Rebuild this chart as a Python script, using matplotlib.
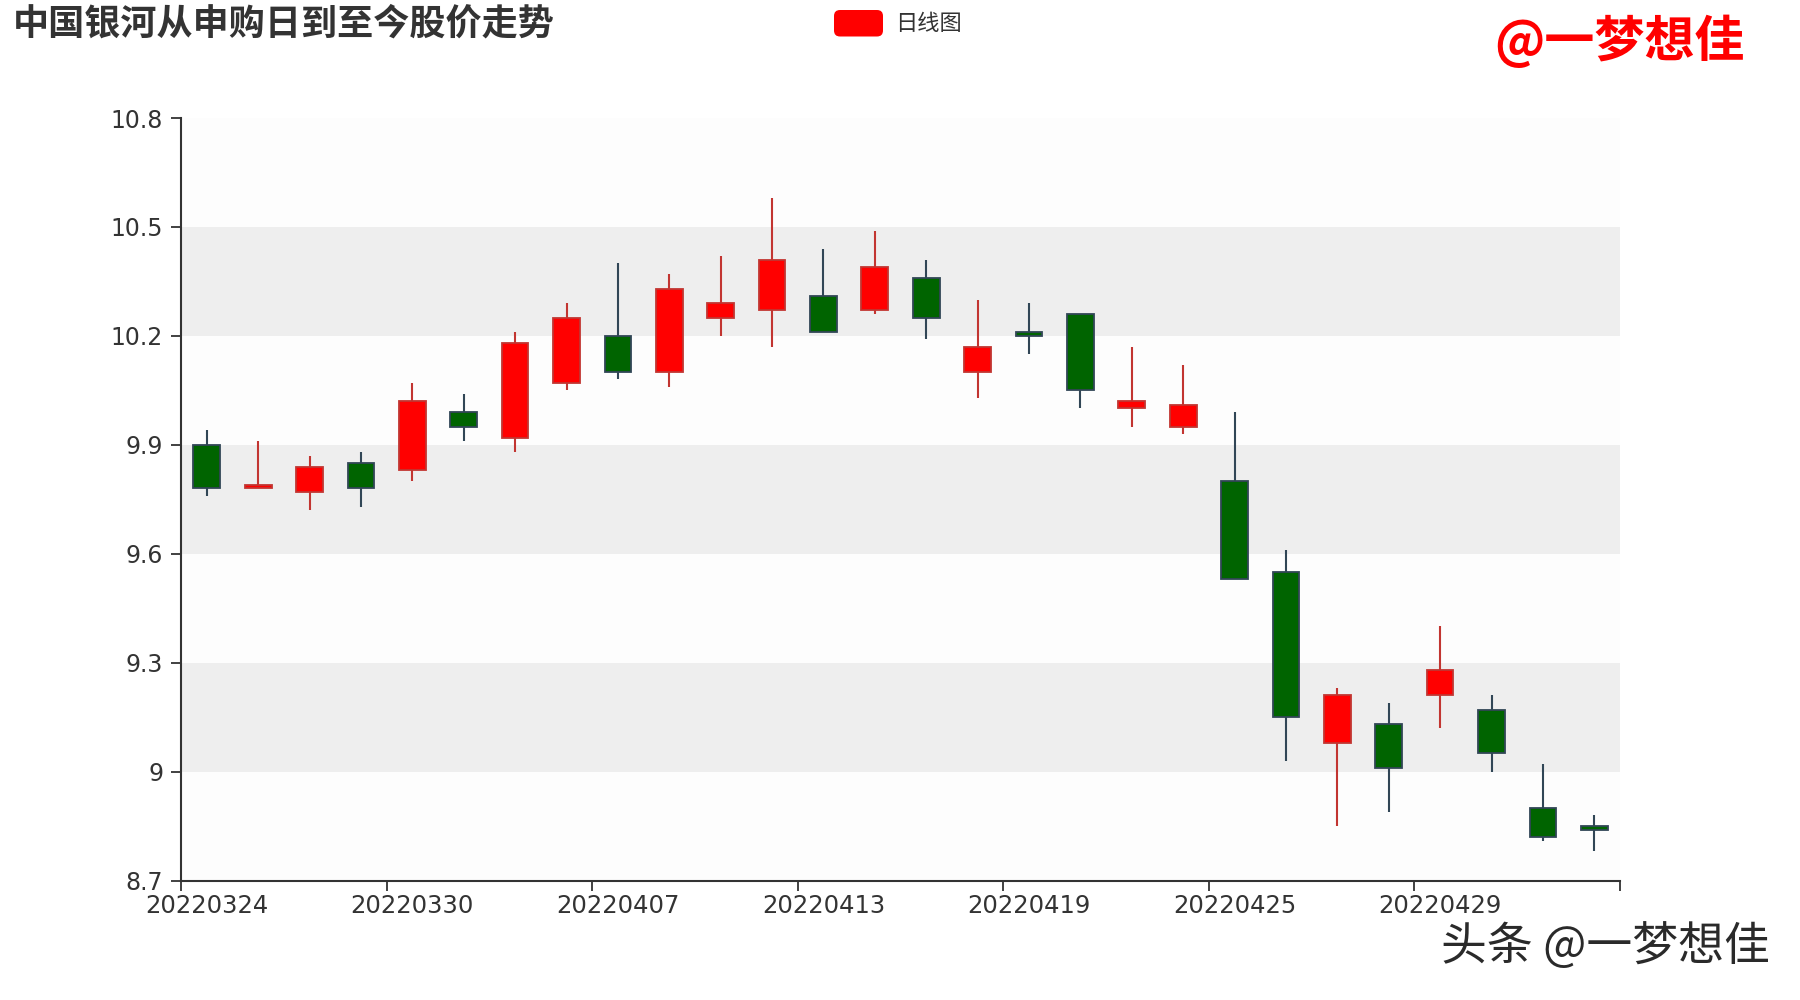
import matplotlib
matplotlib.use('Agg')
import matplotlib.pyplot as plt
from matplotlib.patches import FancyBboxPatch
from matplotlib.ticker import FormatStrFormatter
import numpy as np

plt.rcParams['font.family'] = ['Noto Sans CJK SC', 'DejaVu Sans']

# daily K-line data
dates = ['20220324', '20220325', '20220328', '20220329', '20220330', '20220331',
         '20220401', '20220406', '20220407', '20220408', '20220411', '20220412',
         '20220413', '20220414', '20220415', '20220418', '20220419', '20220420',
         '20220421', '20220422', '20220425', '20220426', '20220427', '20220428',
         '20220429', '20220505', '20220506', '20220509']
opens = [9.90, 9.78, 9.77, 9.85, 9.83, 9.99, 9.92, 10.07, 10.20, 10.10,
         10.25, 10.27, 10.31, 10.27, 10.36, 10.10, 10.21, 10.26, 10.00, 9.95,
         9.80, 9.55, 9.08, 9.13, 9.21, 9.17, 8.90, 8.85]
closes = [9.78, 9.79, 9.84, 9.78, 10.02, 9.95, 10.18, 10.25, 10.10, 10.33,
          10.29, 10.41, 10.21, 10.39, 10.25, 10.17, 10.20, 10.05, 10.02, 10.01,
          9.53, 9.15, 9.21, 9.01, 9.28, 9.05, 8.82, 8.84]
lows = [9.76, 9.78, 9.72, 9.73, 9.80, 9.91, 9.88, 10.05, 10.08, 10.06,
        10.20, 10.17, 10.21, 10.26, 10.19, 10.03, 10.15, 10.00, 9.95, 9.93,
        9.53, 9.03, 8.85, 8.89, 9.12, 9.00, 8.81, 8.78]
highs = [9.94, 9.91, 9.87, 9.88, 10.07, 10.04, 10.21, 10.29, 10.40, 10.37,
         10.42, 10.58, 10.44, 10.49, 10.41, 10.30, 10.29, 10.26, 10.17, 10.12,
         9.99, 9.61, 9.23, 9.19, 9.40, 9.21, 9.02, 8.88]

y_ticks = [8.7, 9.0, 9.3, 9.6, 9.9, 10.2, 10.5, 10.8]

fig = plt.figure(figsize=(18, 10), dpi=100)
ax = fig.add_axes([0.1006, 0.1195, 0.7994, 0.7625])

# alternating split areas
for k in range(len(y_ticks) - 1):
    band = '#eeeeee' if k % 2 == 1 else '#fdfdfd'
    ax.axhspan(y_ticks[k], y_ticks[k + 1], color=band, lw=0, zorder=0)

x = np.arange(len(dates))
for i in x:
    up = closes[i] >= opens[i]
    fill = '#ff0000' if up else '#006400'
    edge = '#c23531' if up else '#314656'
    ax.vlines(i, lows[i], highs[i], color=edge, lw=1.5, zorder=2)
    ax.bar(i, closes[i] - opens[i], bottom=opens[i], width=0.52,
           color=fill, edgecolor=edge, lw=1.3, zorder=3)

ax.set_xlim(-0.5, len(dates) - 0.5)
ax.set_ylim(y_ticks[0], y_ticks[-1])

ax.set_xticks(np.arange(-0.5, len(dates), 4))
ax.set_xticklabels([])
ax.set_xticks(x[::4], minor=True)
ax.set_xticklabels(dates[::4], minor=True, fontsize=17.5, color='#333333',
                   family='DejaVu Sans')
ax.tick_params(axis='x', which='major', length=7, width=1.3, color='#333333')
ax.tick_params(axis='x', which='minor', length=0, pad=10)

ax.set_yticks(y_ticks)
ax.yaxis.set_major_formatter(FormatStrFormatter('%g'))
for lbl in ax.get_yticklabels():
    lbl.set_family('DejaVu Sans')
ax.tick_params(axis='y', length=7, width=1.3, color='#333333',
               labelsize=17, labelcolor='#333333', pad=6)

for side in ['top', 'right']:
    ax.spines[side].set_visible(False)
for side in ['left', 'bottom']:
    ax.spines[side].set_color('#333333')
    ax.spines[side].set_linewidth(1.5)

# title, legend and watermarks
fig.text(0.007, 0.976, '中国银河从申购日到至今股价走势', fontsize=26,
         fontweight='bold', color='#333333', va='center', ha='left')

fig.add_artist(FancyBboxPatch((8.34, 9.635), 0.49, 0.265,
                              boxstyle='round,pad=0,rounding_size=0.06',
                              facecolor='#ff0000', edgecolor='none',
                              transform=fig.dpi_scale_trans))
fig.text(0.497, 0.977, '日线图', fontsize=16, color='#333333',
         va='center', ha='left')

fig.text(0.969, 0.959, '@一梦想佳', fontsize=36, fontweight='bold',
         color='#ff0000', va='center', ha='right')

fig.text(0.983, 0.053, '头条 @一梦想佳', fontsize=33, color='#2a2a2a',
         va='center', ha='right')

fig.savefig('out.png', dpi=100, facecolor='white')
plt.close(fig)
